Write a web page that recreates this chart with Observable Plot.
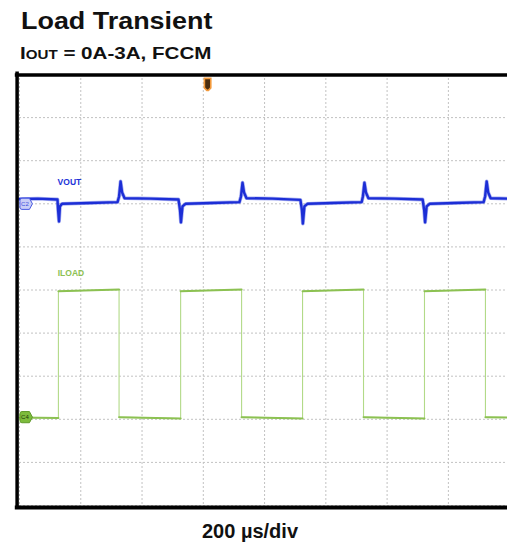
<!DOCTYPE html>
<html>
<head>
<meta charset="utf-8">
<script src="https://cdn.jsdelivr.net/npm/d3@7"></script>
<script src="https://cdn.jsdelivr.net/npm/@observablehq/plot@0.6"></script>
<style>
  html, body { margin: 0; padding: 0; background: #fff; }
  body { width: 507px; height: 544px; position: relative; overflow: hidden;
         font-family: "Liberation Sans", Arial, Helvetica, sans-serif; }
  .t { position: absolute; white-space: nowrap; font-weight: bold; color: #111; line-height: 1; transform-origin: 0 0; }
  #title { left: 21px; top: 10px; font-size: 23px; transform: scaleX(1.17); }
  #subtitle { left: 20px; top: 44.5px; font-size: 17px; transform: scaleX(1.21); }
  #subtitle .sub { font-size: 12.5px; }
  #caption { left: 0; width: 500px; text-align: center; top: 521px; font-size: 20px; }
  #chart { position: absolute; left: 0; top: 62px; }
</style>
</head>
<body>
<div id="title" class="t">Load Transient</div>
<div id="subtitle" class="t">I<span class="sub">OUT</span> = 0A-3A, FCCM</div>
<div id="chart"></div>
<div id="caption" class="t">200 µs/div</div>
<script>
// Time axis: 200 µs/div, shown window in µs
const xGridTimes = [0, 200, 400, 600, 800, 1000, 1200, 1400];
const yGridDivs = [0, 1, 2, 3, 4, 5, 6, 7, 8, 9, 10];

// ILOAD (A), 1 A/div, channel zero at division 2
const iloadOffsetDiv = 2;
const iloadT = [0, 127, 127, 325, 325, 526, 526, 725, 725, 924, 924, 1123, 1123, 1322, 1322, 1521, 1521, 1593];
const iloadA = [0.04, 0.03, 2.97, 3.01, 0.05, 0.02, 2.97, 3.01, 0.05, 0.02, 2.97, 3.01, 0.05, 0.02, 2.97, 3.01, 0.05, 0.04];

// VOUT (screen divisions, AC-coupled trace around its marker at division 7)
const voutT = [0, 60, 124, 126, 129, 132, 139, 232, 320, 325, 330, 335, 343, 428, 519,
               524, 527, 532, 542, 630, 718, 723, 728, 733, 741, 826, 917,
               922, 925, 930, 940, 1025, 1117, 1121, 1126, 1131, 1139, 1224, 1316,
               1321, 1324, 1329, 1339, 1424, 1515, 1520, 1525, 1530, 1538, 1593];
const voutV = [7.11, 7.12, 7.10, 6.85, 6.59, 6.94, 7.00, 7.02, 7.04, 7.17, 7.52, 7.26, 7.13, 7.12, 7.10,
               6.85, 6.57, 6.94, 7.00, 7.02, 7.04, 7.17, 7.49, 7.26, 7.13, 7.12, 7.09,
               6.85, 6.54, 6.94, 7.00, 7.02, 7.04, 7.17, 7.49, 7.26, 7.13, 7.12, 7.10,
               6.85, 6.57, 6.94, 7.00, 7.02, 7.04, 7.17, 7.52, 7.26, 7.13, 7.12];

// Channel labels and markers
const traceLabels = ["VOUT", "ILOAD"];
const traceLabelT = [163, 168];
const traceLabelV = [7.49, 5.38];
const traceColors = ["#2233d8", "#8cc152"];
const markerNames = ["C2", "C4"];
const markerT = [21, 21];
const markerV = [7.0, 2.05];
const triggerT = 614;
const triggerV = 9.77;

const iload = iloadT.map((t, i) => ({t, v: iloadOffsetDiv + iloadA[i], seg: Math.floor(i / 2)}));
const vout = voutT.map((t, i) => ({t, v: voutV[i]}));
const labels = traceLabels.map((s, i) => ({s, t: traceLabelT[i], v: traceLabelV[i], c: traceColors[i]}));
const markers = markerNames.map((s, i) => ({s, t: markerT[i], v: markerV[i]}));

const tag = {
  draw(ctx) {
    const w = 6, h = 5.6;
    ctx.moveTo(-w + 2, -h);
    ctx.lineTo(w - 2.5, -h);
    ctx.lineTo(w + 0.5, 0);
    ctx.lineTo(w - 2.5, h);
    ctx.lineTo(-w + 2, h);
    ctx.quadraticCurveTo(-w, h, -w, h - 2);
    ctx.lineTo(-w, -h + 2);
    ctx.quadraticCurveTo(-w, -h, -w + 2, -h);
    ctx.closePath();
  }
};
const trig = {
  draw(ctx) {
    ctx.moveTo(-3.2, -6);
    ctx.lineTo(3.2, -6);
    ctx.lineTo(3.2, 3.5);
    ctx.lineTo(0.8, 6);
    ctx.lineTo(-0.8, 6);
    ctx.lineTo(-3.2, 3.5);
    ctx.closePath();
  }
};

const plot = Plot.plot({
  width: 507,
  height: 456,
  marginLeft: 19,
  marginRight: 0,
  marginTop: 12,
  marginBottom: 13,
  x: {domain: [0, 1593], axis: null},
  y: {domain: [0, 10], axis: null},
  style: {fontFamily: "Liberation Sans, Arial, sans-serif", background: "white", overflow: "visible"},
  marks: [
    Plot.ruleX(xGridTimes, {stroke: "#c2c2c2", strokeDasharray: "2,2", strokeWidth: 1}),
    Plot.ruleY(yGridDivs, {stroke: "#c2c2c2", strokeDasharray: "2,2", strokeWidth: 1}),
    Plot.line(iload, {x: "t", y: "v", stroke: "#b2da88", strokeWidth: 1.1}),
    Plot.line(iload, {x: "t", y: "v", z: "seg", stroke: "#8cc152", strokeWidth: 2}),
    Plot.line(vout, {x: "t", y: "v", stroke: "#4050e0", strokeOpacity: 0.45, strokeWidth: 3.8, strokeLinejoin: "round"}),
    Plot.line(vout, {x: "t", y: "v", stroke: "#1c2ed6", strokeWidth: 2.4, strokeLinejoin: "round"}),
    Plot.text(labels, {x: "t", y: "v", text: "s", fill: "c", fontSize: 8.5, fontWeight: "bold"}),
    Plot.dot(markers.filter(d => d.s === "C2"), {x: "t", y: "v", symbol: tag, r: 5, fill: "#c9cdf6", stroke: "#4a5ae2", strokeWidth: 1}),
    Plot.dot(markers.filter(d => d.s === "C4"), {x: "t", y: "v", symbol: tag, r: 5, fill: "#7dbb3c", stroke: "#5f9a2a", strokeWidth: 1}),
    Plot.text(markers, {x: "t", y: "v", text: "s", fontSize: 6, fill: d => d.s === "C2" ? "#3b4de0" : "#20380a", dx: -1}),
    Plot.dot([triggerT], {x: d => d, y: triggerV, symbol: trig, r: 5, fill: "#4a2d10", stroke: "#f39a3c", strokeWidth: 1.6}),
    Plot.ruleX([0], {dx: -2.4, stroke: "#000", strokeWidth: 3.5, insetTop: -2.5, insetBottom: -4}),
    Plot.ruleY([10], {dy: 0.5, stroke: "#000", strokeWidth: 3.6, insetLeft: -4.2}),
    Plot.ruleY([0], {dy: 2, stroke: "#000", strokeWidth: 3.8, insetLeft: -4.2})
  ]
});
document.getElementById("chart").appendChild(plot);
</script>
</body>
</html>
